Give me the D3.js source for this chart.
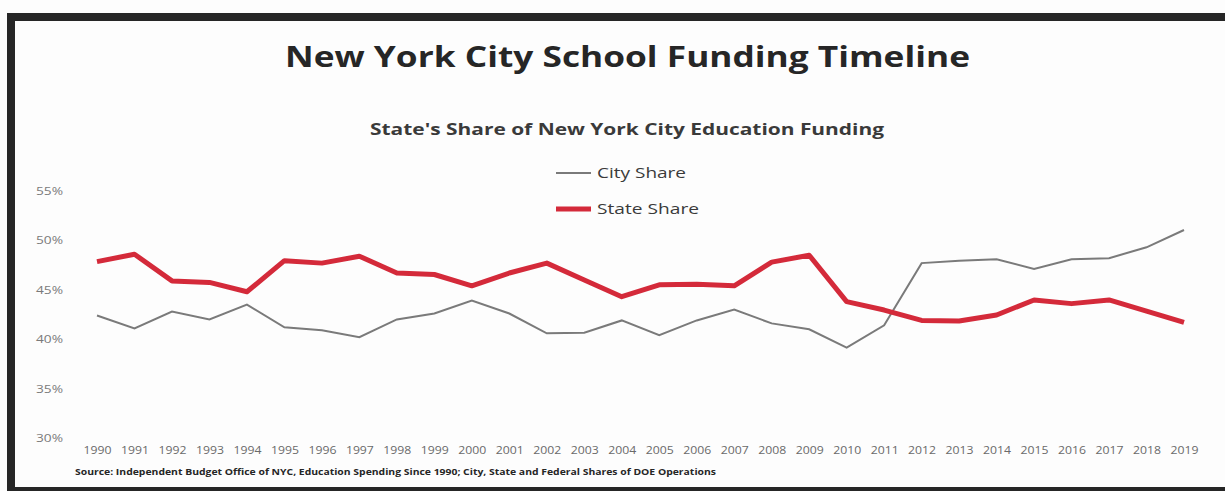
<!DOCTYPE html>
<html>
  <head>
    <script src="https://d3js.org/d3.v7.min.js"></script>
    <style>
      body { margin: 0; background: #fff; font-family: "Open Sans", sans-serif; }
    </style>
  </head>
  <body>
    <svg id="chart" width="1225" height="491"></svg>
    <script>
      var years = d3.range(1990, 2020);
      var cityShare = [42.4, 41.1, 42.8, 42.0, 43.5, 41.2, 40.9, 40.2, 42.0, 42.6,
        43.9, 42.6, 40.6, 40.65, 41.9, 40.4, 41.9, 43.0, 41.6, 41.0,
        39.15, 41.4, 47.7, 47.95, 48.1, 47.1, 48.1, 48.2, 49.3, 51.05];
      var stateShare = [47.85, 48.6, 45.9, 45.75, 44.8, 47.95, 47.7, 48.4, 46.7, 46.55,
        45.4, 46.7, 47.7, 46.0, 44.3, 45.5, 45.55, 45.4, 47.8, 48.5,
        43.8, 42.95, 41.9, 41.85, 42.45, 43.97, 43.6, 43.97, 42.85, 41.7];
      var yTicks = [30, 35, 40, 45, 50, 55];

      var svg = d3.select("#chart");

      // scanned page frame
      svg.append("rect").attr("x", 0).attr("y", 0).attr("width", 1225).attr("height", 491).attr("fill", "#fdfdfd");
      svg.append("rect").attr("x", 7).attr("y", 13).attr("width", 1218).attr("height", 8).attr("fill", "#262626");
      svg.append("rect").attr("x", 7).attr("y", 13).attr("width", 8).attr("height", 478).attr("fill", "#262626");
      svg.append("rect").attr("x", 7).attr("y", 487).attr("width", 1218).attr("height", 4).attr("fill", "#262626");

      var x = d3.scaleLinear().domain([1990, 2019]).range([97, 1184]);
      var y = d3.scaleLinear().domain([30, 55]).range([438, 191]);

      // the scan is stretched sideways, so texts get a fixed length
      svg.append("text")
        .attr("x", 285).attr("y", 67)
        .attr("textLength", 685).attr("lengthAdjust", "spacingAndGlyphs")
        .style("font-size", "29px").style("font-weight", "bold")
        .style("fill", "#262626")
        .text("New York City School Funding Timeline");

      svg.append("text")
        .attr("x", 370).attr("y", 135)
        .attr("textLength", 514).attr("lengthAdjust", "spacingAndGlyphs")
        .style("font-size", "16px").style("font-weight", "bold")
        .style("fill", "#3a3a3a")
        .text("State's Share of New York City Education Funding");

      var yAxis = d3.axisLeft(y).tickValues(yTicks).tickSize(0).tickPadding(0)
        .tickFormat(function (d) { return d + "%"; });
      svg.append("g").attr("transform", "translate(63,0)").call(yAxis)
        .call(function (g) { g.select(".domain").remove(); })
        .selectAll("text")
        .attr("textLength", 27).attr("lengthAdjust", "spacingAndGlyphs")
        .style("font-family", "Open Sans").style("font-size", "11px").style("fill", "#7a7a7a");

      var xAxis = d3.axisBottom(x).tickValues(years).tickSize(0).tickPadding(0)
        .tickFormat(d3.format("d"));
      svg.append("g").attr("transform", "translate(0,446)").call(xAxis)
        .call(function (g) { g.select(".domain").remove(); })
        .selectAll("text")
        .attr("textLength", 28).attr("lengthAdjust", "spacingAndGlyphs")
        .style("font-family", "Open Sans").style("font-size", "11px").style("fill", "#6a6a6a");

      var line = d3.line().x(function (d, i) { return x(years[i]); }).y(function (d) { return y(d); });

      svg.append("path").datum(cityShare).attr("d", line)
        .attr("fill", "none").attr("stroke", "#7a7a7a").attr("stroke-width", 2);
      svg.append("path").datum(stateShare).attr("d", line)
        .attr("fill", "none").attr("stroke", "#d42a3a").attr("stroke-width", 5)
        .attr("stroke-linejoin", "round");

      // legend
      var legend = [
        { name: "City Share", color: "#7a7a7a", w: 2, y: 173, len: 89 },
        { name: "State Share", color: "#d42a3a", w: 5, y: 209, len: 102 }
      ];
      legend.forEach(function (l) {
        svg.append("line").attr("x1", 556).attr("x2", 591).attr("y1", l.y).attr("y2", l.y)
          .attr("stroke", l.color).attr("stroke-width", l.w);
        svg.append("text").attr("x", 597).attr("y", l.y + 5)
          .attr("textLength", l.len).attr("lengthAdjust", "spacingAndGlyphs")
          .style("font-size", "15px").style("fill", "#3a3a3a").text(l.name);
      });

      svg.append("text")
        .attr("x", 75).attr("y", 475)
        .attr("textLength", 641).attr("lengthAdjust", "spacingAndGlyphs")
        .style("font-size", "8px").style("font-weight", "bold").style("fill", "#262626")
        .text("Source: Independent Budget Office of NYC, Education Spending Since 1990; City, State and Federal Shares of DOE Operations");
    </script>
  </body>
</html>
